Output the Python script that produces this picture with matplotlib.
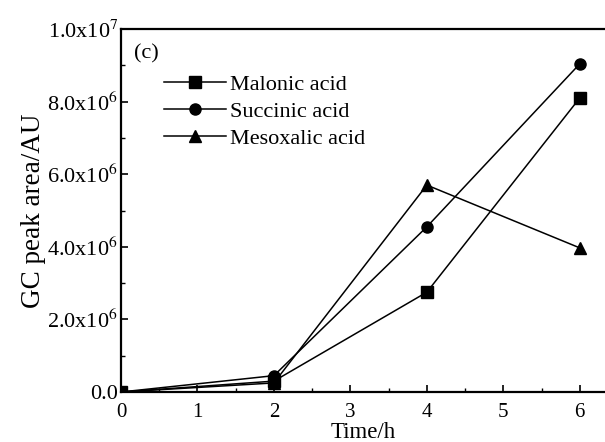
import numpy as np
import matplotlib
matplotlib.use('Agg')
import matplotlib.pyplot as plt
from matplotlib.ticker import MultipleLocator, FuncFormatter

# Data
time_h = [0, 2, 4, 6]
malonic = [0.0, 0.30e6, 2.75e6, 8.10e6]
succinic = [0.0, 0.45e6, 4.55e6, 9.04e6]
mesoxalic = [0.0, 0.25e6, 5.70e6, 3.97e6]

plt.rcParams['font.family'] = ['Liberation Serif', 'DejaVu Serif']
plt.rcParams['mathtext.fontset'] = 'stix'

fig = plt.figure(figsize=(6.05, 4.42), dpi=100)
ax = fig.add_axes([121 / 605, 1 - 392 / 442, (605 - 121) / 605, (392 - 29) / 442])

ax.plot(time_h, malonic, '-s', color='black', lw=1.1, ms=8, label='Malonic acid')
ax.plot(time_h, succinic, '-o', color='black', lw=1.1, ms=8, label='Succinic acid')
ax.plot(time_h, mesoxalic, '-^', color='black', lw=1.1, ms=9, label='Mesoxalic acid')

ax.set_xlim(0, 6.33)
ax.set_ylim(0, 1.0e7)
ax.xaxis.set_major_locator(MultipleLocator(1))
ax.xaxis.set_minor_locator(MultipleLocator(0.5))
ax.yaxis.set_major_locator(MultipleLocator(2e6))
ax.yaxis.set_minor_locator(MultipleLocator(1e6))


def yfmt(v, pos):
    if abs(v) < 1:
        return '0.0'
    if v < 0:
        return ''
    exp = int(np.floor(np.log10(v)))
    return '%.1fx10$^{%d}$' % (v / 10 ** exp, exp)


ax.yaxis.set_major_formatter(FuncFormatter(yfmt))
ax.tick_params(which='both', direction='in', top=False, right=False)
ax.tick_params(which='major', length=5, width=1.2)
ax.tick_params(which='minor', length=3, width=1.0)
ax.tick_params(axis='x', pad=8, labelsize=15)
ax.tick_params(axis='y', pad=2, labelsize=16)
ax.spines['right'].set_visible(False)
for s in ['left', 'bottom', 'top']:
    ax.spines[s].set_linewidth(1.6)

ax.set_xlabel('Time/h', fontsize=16.5, labelpad=0)
ax.set_ylabel('GC peak area/AU', fontsize=19.5, labelpad=1)

ax.text(0.17, 9.2e6, '(c)', fontsize=16)
ax.legend(loc='upper left', bbox_to_anchor=(0.07, 0.90), frameon=False, fontsize=16,
          handlelength=2.8, handletextpad=0.2, labelspacing=0.3, borderaxespad=0)

fig.savefig('out.png', dpi=100)
